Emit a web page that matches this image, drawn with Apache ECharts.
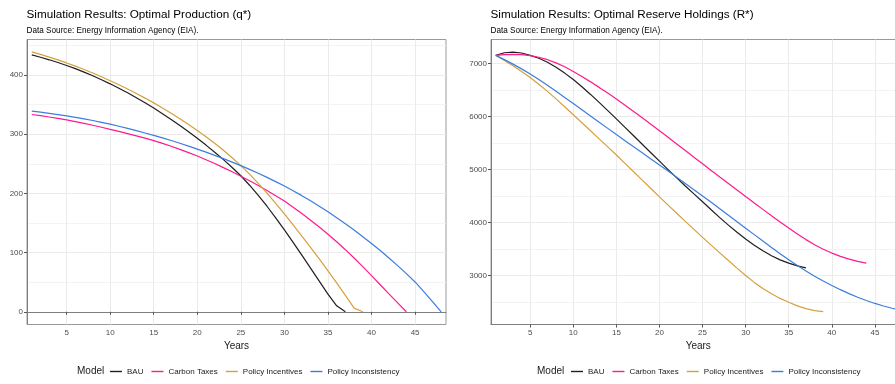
<!DOCTYPE html>
<html>
<head>
<meta charset="utf-8">
<script src="https://cdn.jsdelivr.net/npm/echarts@6/dist/echarts.min.js"></script>
<style>
html,body{margin:0;padding:0;background:#fff;}
#chart{width:895px;height:384px;}
</style>
</head>
<body>
<div id="chart"></div>
<script>
const seriesNames = ['BAU', 'Carbon Taxes', 'Policy Incentives', 'Policy Inconsistency'];
const years = [1,2,3,4,5,6,7,8,9,10,11,12,13,14,15,16,17,18,19,20,21,22,23,24,25,26,27,28,29,30,31,32,33,34,35,36,37,38,39,40,41,42,43,44,45,46,47,48];
const xTicks = [5,10,15,20,25,30,35,40,45];
const qTicks = [0,100,200,300,400];
const qMinor = [50,150,250,350,450];
const rTicks = [3000,4000,5000,6000,7000];
const rMinor = [2500,3500,4500,5500,6500];

// Optimal Production (q*)
const qBAU = [434,430,425.7,421.1,416.1,410.7,404.9,398.7,392.1,385.1,377.7,369.9,361.7,353.1,344.1,334.7,324.9,314.7,304.1,293.1,281.6,269.6,257,243.8,229.8,213.8,196.8,178.3,158.8,138.3,117.3,95.8,73.8,51.8,29.8,10,0];
const qCarbon = [333.3,331.3,329.1,326.7,324.1,321.3,318.3,315.1,311.7,308.1,304.7,301.1,297.3,293.3,289.1,284.5,279.6,274.4,268.9,263.1,256.9,250.4,243.6,236.5,229.1,221.3,213.2,204.8,196.1,187.1,176.7,165.9,154.7,143.1,131.1,118.3,104.9,90.9,76.3,61.1,45.6,30.2,15,0];
const qIncent = [439,434.8,430.3,425.5,420.4,415,409.3,403.3,397,390.4,383.5,376.3,368.8,361,352.9,344.4,335.5,326.2,316.5,306.4,295.8,284.6,272.8,260.3,247,232.5,217,200.5,183.2,165.2,146.8,128,108.8,89.2,69.2,48.7,27.7,6.2,0];
const qIncons = [339,337.2,335.2,333.1,330.9,328.5,325.9,323.1,320.1,316.9,313.5,309.9,306.1,302.1,297.9,293.7,289.3,284.7,279.9,274.9,269.7,264.3,258.7,252.9,246.9,240.6,234,227.1,219.9,212.4,204.5,196.2,187.5,178.4,168.9,159,148.7,138,126.9,115.4,103.4,90.9,77.9,64.4,50.4,34,17.2,0];

// Optimal Reserve Holdings (R*)
const rBAU = [7156,7205,7218,7200,7156,7101,7026,6931,6821,6699,6564,6419,6269,6114,5957,5799,5639,5479,5319,5160,5002,4846,4693,4543,4396,4244,4096,3954,3819,3692,3574,3469,3377,3299,3237,3187,3147];
const rCarbon = [7156,7170,7175,7170,7152,7120,7074,7014,6940,6852,6756,6656,6552,6444,6332,6217,6099,5979,5857,5734,5610,5485,5360,5235,5110,4986,4862,4739,4616,4494,4372,4251,4131,4013,3898,3786,3681,3585,3500,3427,3365,3313,3271,3239];
const rIncent = [7156,7061,6959,6851,6737,6612,6477,6335,6187,6037,5885,5733,5581,5429,5277,5119,4961,4803,4645,4487,4332,4178,4025,3874,3724,3576,3430,3286,3144,3004,2874,2759,2659,2572,2500,2432,2380,2342,2322];
const rIncons = [7156,7076,6991,6901,6806,6701,6591,6478,6363,6247,6130,6013,5896,5779,5662,5546,5431,5317,5203,5089,4974,4858,4741,4623,4504,4384,4263,4141,4019,3897,3775,3654,3534,3416,3301,3191,3087,2990,2900,2817,2737,2663,2595,2533,2477,2429,2387,2351];

const colors = ['#1f1f1f', '#ff1a8c', '#d6a03c', '#3b7ddd'];
const FONT = '"Liberation Sans", Arial, Helvetica, sans-serif';

function pairs(arr) { return arr.map((v, i) => [years[i], v]); }

const qSets = [qBAU, qCarbon, qIncent, qIncons];
const rSets = [rBAU, rCarbon, rIncent, rIncons];

const series = [];
qSets.forEach((arr, i) => series.push({
  name: seriesNames[i], type: 'line', xAxisIndex: 0, yAxisIndex: 0,
  data: pairs(arr), showSymbol: false, symbol: 'none',
  lineStyle: { width: 1.2, color: colors[i] }, itemStyle: { color: colors[i] },
  animation: false, z: 3
}));
rSets.forEach((arr, i) => series.push({
  name: seriesNames[i], type: 'line', xAxisIndex: 1, yAxisIndex: 2,
  data: pairs(arr), showSymbol: false, symbol: 'none',
  lineStyle: { width: 1.2, color: colors[i] }, itemStyle: { color: colors[i] },
  animation: false, z: 3
}));

function xAxisCfg(gridIndex) {
  return {
    type: 'value', gridIndex: gridIndex, min: 0.45, max: 48.55,
    name: 'Years', nameLocation: 'middle', nameGap: 10,
    nameTextStyle: { fontFamily: FONT, fontSize: 10, color: '#1a1a1a' },
    axisLine: { show: true, lineStyle: { color: '#7f7f7f', width: 1 } },
    axisTick: { show: true, length: 3, customValues: xTicks, lineStyle: { color: '#555' } },
    axisLabel: { customValues: xTicks, margin: 4, fontFamily: FONT, fontSize: 8, color: '#4d4d4d',
      formatter: v => String(v) },
    splitLine: { show: true, lineStyle: { color: ['#ebebeb', '#ebebeb'], width: 1 } },
    minorSplitLine: { show: false }
  };
}
function yAxisCfg(gridIndex, min, max, ticks) {
  return {
    type: 'value', gridIndex: gridIndex, min: min, max: max, position: 'left',
    axisLine: { show: true, lineStyle: { color: '#7f7f7f', width: 1 } },
    axisTick: { show: true, length: 3, customValues: ticks, lineStyle: { color: '#555' } },
    axisLabel: { customValues: ticks, margin: 4, fontFamily: FONT, fontSize: 8, color: '#4d4d4d',
      formatter: v => String(v) },
    splitLine: { show: true, lineStyle: { color: ['#ebebeb', '#ebebeb'], width: 1 } }
  };
}
function yMinorCfg(gridIndex, min, max, ticks) {
  return {
    type: 'value', gridIndex: gridIndex, min: min, max: max, position: 'right',
    axisLine: { show: false }, axisLabel: { show: false, customValues: ticks },
    axisTick: { show: false, customValues: ticks },
    splitLine: { show: true, lineStyle: { color: ['#f3f3f3', '#f3f3f3'], width: 1 } }
  };
}

function legendCfg(left) {
  return {
    left: left, top: 367.5, orient: 'horizontal', padding: 0,
    itemWidth: 12, itemHeight: 1.4, itemGap: 8, icon: 'rect',
    data: seriesNames,
    textStyle: { fontFamily: FONT, fontSize: 8, color: '#1a1a1a' },
    selectedMode: false
  };
}

const option = {
  backgroundColor: '#ffffff',
  animation: false,
  title: [
    { text: 'Simulation Results: Optimal Production (q*)', left: 26.5, top: 8.5, padding: 0,
      textStyle: { fontFamily: FONT, fontSize: 11.7, fontWeight: 'normal', color: '#000' } },
    { text: 'Data Source: Energy Information Agency (EIA).', left: 26.5, top: 26.5, padding: 0,
      textStyle: { fontFamily: FONT, fontSize: 8.2, fontWeight: 'normal', color: '#000' } },
    { text: 'Simulation Results: Optimal Reserve Holdings (R*)', left: 490.5, top: 8.5, padding: 0,
      textStyle: { fontFamily: FONT, fontSize: 11.7, fontWeight: 'normal', color: '#000' } },
    { text: 'Data Source: Energy Information Agency (EIA).', left: 490.5, top: 26.5, padding: 0,
      textStyle: { fontFamily: FONT, fontSize: 8.2, fontWeight: 'normal', color: '#000' } },
    { text: 'Model', left: 77, top: 366.5, padding: 0,
      textStyle: { fontFamily: FONT, fontSize: 10, fontWeight: 'normal', color: '#1a1a1a' } },
    { text: 'Model', left: 537, top: 366.5, padding: 0,
      textStyle: { fontFamily: FONT, fontSize: 10, fontWeight: 'normal', color: '#1a1a1a' } }
  ],
  legend: [legendCfg(110), legendCfg(571)],
  grid: [
    { left: 27, right: 449, top: 39.5, bottom: 59.5, show: true, borderColor: '#9a9a9a', borderWidth: 1, outerBoundsMode: 'none', containLabel: false },
    { left: 491, right: -10.5, top: 39.5, bottom: 59.5, show: true, borderColor: '#9a9a9a', borderWidth: 1, outerBoundsMode: 'none', containLabel: false }
  ],
  xAxis: [xAxisCfg(0), xAxisCfg(1)],
  yAxis: [
    yAxisCfg(0, -21.5, 460, qTicks),
    yMinorCfg(0, -21.5, 460, qMinor),
    yAxisCfg(1, 2080, 7455, rTicks),
    yMinorCfg(1, 2080, 7455, rMinor)
  ],
  series: series
};

const chart = echarts.init(document.getElementById('chart'), null, { renderer: 'canvas' });
chart.setOption(option);
</script>
</body>
</html>
